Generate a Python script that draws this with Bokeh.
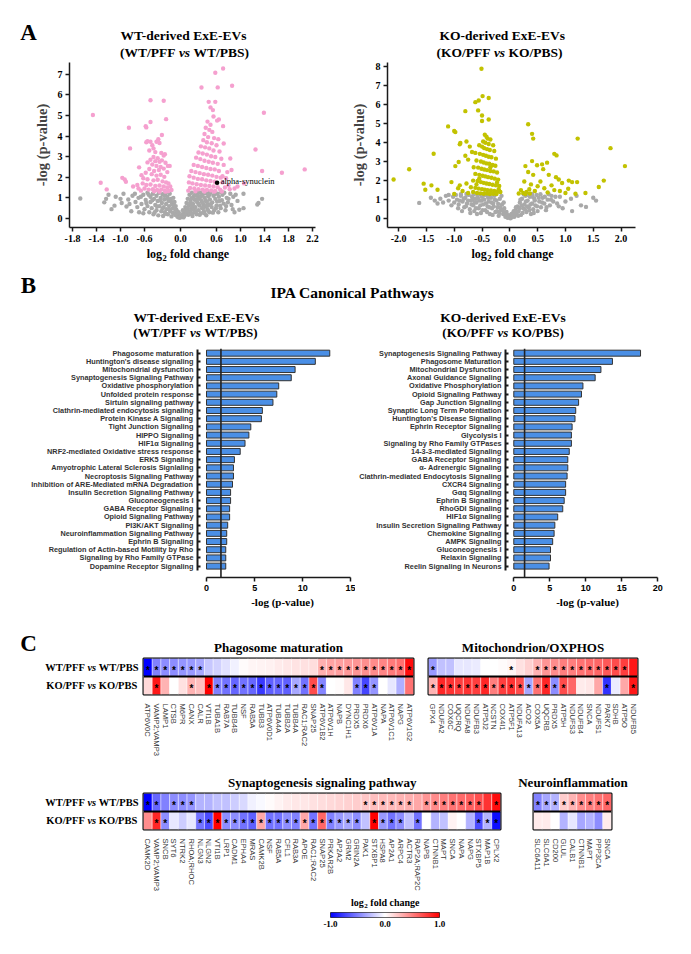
import math
import numpy as np
from bokeh.plotting import figure
from bokeh.models import (Range1d, FactorRange, FixedTicker, PrintfTickFormatter, Label, Span,
                          ColumnDataSource, LinearColorMapper)
from bokeh.layouts import row, column
from bokeh.transform import linear_cmap
from bokeh.core.properties import value
from bokeh.embed import file_html
from bokeh.resources import INLINE

SERIF = "Liberation Serif"
SANS = "Liberation Sans"

# ---------------- Panel A: volcano data (log2 FC, -log p) ----------------
wt_ns = [(-1.67,0.97),(-1.27,0.78),(-1.24,0.95),(-1.15,0.45),(-1.10,0.62),(-1.08,1.05),(-0.98,0.75),(-0.95,1.20),
         (-0.90,0.58),(-0.87,0.92),(-0.82,0.35),(-0.80,1.10),(-0.75,0.80),(-0.72,0.55),(-0.70,1.00),
         (1.36,0.95),(1.30,0.75),(1.28,0.68),(1.05,0.50),(0.98,0.42),(0.90,0.30),(1.05,1.20),(0.95,0.85),
         (0.88,1.05),(0.85,0.65),(0.80,0.95),(0.92,1.15),
         (-0.65,0.70),(-0.62,1.15),(-0.60,0.45),(-0.58,0.90),(-0.55,1.25),(-0.55,0.60),(-0.52,0.30),(-0.50,1.05),
         (-0.50,0.80),(-0.48,0.50),(-0.46,1.20),(-0.45,0.20),(-0.44,0.95),(-0.42,0.65),(-0.40,1.10),(-0.40,0.40),
         (-0.38,0.85),(-0.37,0.15),(-0.36,1.25),(-0.35,0.60),(-0.33,1.00),(-0.32,0.35),(-0.31,0.75),(-0.30,1.18),
         (-0.29,0.12),(-0.28,0.55),(-0.27,0.92),(-0.26,0.30),(-0.25,1.22),(-0.24,0.70),(-0.23,0.45),(-0.22,1.05),
         (-0.21,0.20),(-0.20,0.85),(-0.19,0.60),(-0.18,1.20),(-0.17,0.35),(-0.16,0.95),(-0.15,0.10),(-0.14,0.70),
         (-0.13,0.50),(-0.12,1.00),(-0.11,0.25),(-0.10,0.80),(-0.09,0.45),(-0.08,0.60),(-0.07,0.15),(-0.06,0.35),
         (-0.05,0.08),(-0.04,0.25),(-0.03,0.05),(-0.02,0.12),
         (0.02,0.08),(0.03,0.20),(0.05,0.05),(0.06,0.35),(0.07,0.15),(0.08,0.55),(0.09,0.28),(0.10,0.75),
         (0.11,0.42),(0.12,0.95),(0.13,0.18),(0.14,0.62),(0.15,1.15),(0.16,0.35),(0.17,0.85),(0.18,0.50),
         (0.19,1.25),(0.20,0.12),(0.21,0.70),(0.22,1.05),(0.23,0.30),(0.24,0.90),(0.25,0.55),(0.26,1.20),
         (0.27,0.20),(0.28,0.78),(0.29,1.10),(0.30,0.40),(0.31,0.95),(0.32,0.62),(0.33,1.25),(0.34,0.25),
         (0.35,0.85),(0.36,0.50),(0.37,1.15),(0.38,0.70),(0.39,0.35),(0.40,1.00),(0.41,0.58),(0.42,1.22),
         (0.43,0.15),(0.44,0.80),(0.45,0.45),(0.46,1.08),(0.47,0.65),(0.48,0.30),(0.49,0.92),(0.50,1.25),
         (0.52,0.55),(0.53,0.78),(0.55,1.10),(0.56,0.40),(0.58,0.95),(0.60,0.62),(0.62,1.20),(0.63,0.30),
         (0.65,0.85),(0.67,0.50),(0.70,1.15),(0.72,0.72),(0.75,0.40),(0.77,1.00),(0.68,1.28),(0.45,1.30),
         (0.30,1.28),(0.18,0.98),(0.10,0.50),
         (-0.62,0.25),(-0.57,0.75),(-0.53,1.15),(-0.47,0.88),(-0.43,0.30),(-0.39,0.58),(-0.34,0.88),(-0.30,0.48),
         (-0.27,1.10),(-0.24,0.22),(-0.21,0.95),(-0.18,0.42),(-0.15,0.80),(-0.13,0.28),(-0.11,0.62),(-0.09,0.18),
         (-0.07,0.42),(-0.05,0.22),(-0.03,0.30),(-0.01,0.03),(0.01,0.15),(0.04,0.40),(0.06,0.12),(0.08,0.22),
         (0.10,0.32),(0.12,0.48),(0.14,0.30),(0.16,0.75),(0.18,0.22),(0.20,0.58),(0.22,0.42),(0.24,1.12),
         (0.26,0.35),(0.28,0.95),(0.30,0.70),(0.32,0.18),(0.34,1.05),(0.36,0.78),(0.38,0.52),(0.40,0.25),
         (0.42,0.88),(0.44,0.62),(0.46,0.38),(0.48,1.15),(0.51,0.72),(0.54,0.28),(0.57,1.18),(0.59,0.50),
         (0.61,0.82),(0.64,1.05),(0.66,0.62),(0.69,0.88),(0.73,1.25),(0.76,0.60),(0.79,0.78),(0.83,1.20),
         (0.87,0.45),(-0.66,1.05),(-0.69,0.30),(-0.76,1.20),(-0.85,0.70),(-1.00,0.95),(-1.20,1.15)]
wt_sig = [(-1.46,5.02),(-1.33,1.73),(-1.23,1.41),(-0.86,4.40),(-0.84,3.40),(-0.97,1.97),(-0.93,1.89),(-0.91,1.78),
          (-0.79,1.55),(-0.72,1.62),(-0.69,2.48),(-0.70,1.45),(-0.65,2.10),
          (-0.50,5.74),(-0.28,5.71),(-0.24,4.82),(-0.50,4.68),(-0.58,4.48),(-0.57,4.42),(-0.31,4.05),(-0.37,3.85),
          (-0.40,3.72),(-0.35,3.66),(-0.55,3.75),(-0.57,3.70),(-0.50,3.72),(-0.47,3.55),(-0.45,3.40),(-0.52,3.30),
          (-0.42,3.22),(-0.32,3.18),(-0.28,3.05),(-0.26,3.12),(-0.45,2.98),(-0.38,2.92),(-0.50,2.85),(-0.42,2.78),
          (-0.35,2.75),(-0.31,2.82),(-0.25,2.70),(-0.21,2.55),(-0.55,2.72),(-0.47,2.62),(-0.40,2.55),(-0.33,2.50),
          (-0.28,2.42),(-0.36,2.35),(-0.44,2.30),(-0.52,2.40),(-0.58,2.22),(-0.48,2.15),(-0.40,2.08),(-0.33,2.12),
          (-0.27,2.02),(-0.22,2.25),(-0.18,2.55),(-0.62,1.95),(-0.55,1.90),(-0.45,1.85),(-0.38,1.88),(-0.30,1.80),
          (-0.24,1.75),(-0.20,1.70),(-0.63,1.70),(-0.57,1.62),(-0.50,1.65),(-0.42,1.58),(-0.35,1.60),(-0.28,1.55),
          (-0.22,1.50),(-0.17,1.55),(-0.60,1.45),(-0.53,1.40),(-0.46,1.42),(-0.39,1.38),(-0.32,1.40),(-0.26,1.35),
          (-0.20,1.33),(-0.15,1.38),(-0.66,1.35),(-0.44,1.32),(-0.35,1.30),(-0.25,1.30),
          (0.58,7.07),(0.71,7.28),(0.35,6.36),(0.62,6.36),(0.86,6.44),(0.47,5.66),(0.58,5.66),(0.50,5.39),
          (0.54,5.26),(1.39,5.13),(1.25,3.35),(1.36,2.30),(1.69,2.22),(2.07,2.38),(1.06,1.70),(0.85,2.35),
          (0.83,2.91),(0.72,3.64),(0.71,4.48),(0.64,4.80),(0.61,4.75),(0.95,1.55),(0.90,1.45),(0.80,1.60),
          (0.76,1.95),(0.70,2.05),
          (0.55,4.95),(0.45,4.70),(0.50,4.55),(0.42,4.40),(0.48,4.30),(0.53,4.20),(0.40,4.10),(0.46,3.95),
          (0.56,3.90),(0.63,3.85),(0.38,3.80),(0.44,3.70),(0.52,3.65),(0.60,3.55),(0.34,3.50),(0.41,3.45),
          (0.48,3.40),(0.55,3.30),(0.65,3.25),(0.30,3.20),(0.37,3.15),(0.44,3.10),(0.51,3.02),(0.58,2.98),
          (0.68,2.90),(0.26,2.95),(0.33,2.88),(0.40,2.80),(0.47,2.75),(0.54,2.70),(0.62,2.65),(0.72,2.60),
          (0.22,2.60),(0.29,2.55),(0.36,2.50),(0.43,2.45),(0.50,2.40),(0.57,2.38),(0.64,2.30),(0.78,2.25),
          (0.18,2.30),(0.25,2.25),(0.32,2.20),(0.39,2.15),(0.46,2.12),(0.53,2.08),(0.60,2.02),(0.67,1.98),
          (0.15,2.05),(0.22,1.98),(0.29,1.92),(0.36,1.90),(0.43,1.85),(0.50,1.82),(0.57,1.78),(0.70,1.75),
          (0.14,1.75),(0.20,1.70),(0.27,1.66),(0.34,1.62),(0.41,1.60),(0.48,1.58),(0.55,1.55),(0.62,1.52),
          (0.74,1.50),(0.16,1.48),(0.23,1.45),(0.30,1.42),(0.37,1.40),(0.44,1.38),(0.51,1.36),(0.58,1.34),
          (0.66,1.40),(0.82,1.42),(0.13,1.35),(0.25,1.32),(0.40,1.31),(0.56,1.30),(0.69,1.31)]
snca_point = (0.61, 1.73)
snca_name = "alpha-synuclein"

ko_ns = [(-1.63,0.83),(-1.42,1.10),(-1.35,0.95),(-1.25,1.05),(-1.20,0.85),(-1.15,1.20),(-1.10,0.95),(-1.05,0.70),
         (-1.02,1.15),(1.50,1.10),(1.55,0.95),(1.28,0.70),(1.12,0.40),(1.37,0.62),(1.20,1.20),(1.10,1.05),
         (1.00,0.90),(0.95,0.55),(0.90,1.15),(0.85,0.80),
         (-0.95,1.00),(-0.92,0.75),(-0.88,1.20),(-0.85,0.90),(-0.82,0.60),(-0.80,1.10),(-0.77,0.80),(-0.74,1.25),
         (-0.72,0.50),(-0.70,0.95),(-0.68,1.15),(-0.66,0.70),(-0.64,0.40),(-0.62,1.05),(-0.60,0.85),(-0.58,1.22),
         (-0.56,0.55),(-0.54,0.95),(-0.52,0.30),(-0.50,1.15),(-0.48,0.75),(-0.46,1.00),(-0.44,0.45),(-0.42,1.25),
         (-0.40,0.65),(-0.38,0.90),(-0.36,0.25),(-0.34,1.10),(-0.32,0.55),(-0.30,0.80),(-0.28,1.20),(-0.26,0.35),
         (-0.24,0.95),(-0.22,0.60),(-0.20,0.15),(-0.18,1.05),(-0.16,0.45),(-0.14,0.75),(-0.12,0.25),(-0.10,0.55),
         (-0.08,0.10),(-0.06,0.35),(-0.04,0.05),(-0.02,0.18),(-0.45,1.30),(-0.55,1.28),(-0.65,1.28),(-0.35,1.30),
         (-0.25,1.28),(-0.15,1.20),(-0.78,1.30),(-0.88,1.28),
         (0.02,0.05),(0.04,0.15),(0.06,0.30),(0.08,0.10),(0.10,0.45),(0.12,0.25),(0.14,0.65),(0.16,0.40),
         (0.18,0.85),(0.20,0.20),(0.22,1.05),(0.24,0.55),(0.26,0.75),(0.28,1.20),(0.30,0.35),(0.32,0.95),
         (0.34,0.60),(0.36,1.15),(0.38,0.25),(0.40,0.80),(0.42,0.50),(0.44,1.05),(0.46,0.70),(0.48,1.25),
         (0.50,0.40),(0.53,0.90),(0.56,0.60),(0.59,1.10),(0.62,0.80),(0.65,0.45),(0.68,1.00),(0.72,0.70),
         (0.75,1.20),(0.78,0.90),(0.55,1.28),(0.70,1.28),(0.40,1.30),(0.25,1.28),
         (-0.93,0.55),(-0.90,0.95),(-0.86,0.40),(-0.83,1.05),(-0.79,0.65),(-0.75,0.95),(-0.71,0.30),(-0.69,0.75),
         (-0.67,1.00),(-0.63,0.85),(-0.61,0.55),(-0.59,0.25),(-0.57,1.05),(-0.53,0.70),(-0.51,0.95),(-0.49,0.45),
         (-0.47,1.22),(-0.43,0.80),(-0.41,0.35),(-0.39,1.10),(-0.37,0.60),(-0.33,0.85),(-0.31,0.20),(-0.29,0.65),
         (-0.27,1.00),(-0.23,0.40),(-0.21,0.78),(-0.19,0.30),(-0.17,0.60),(-0.13,0.45),(-0.11,0.85),(-0.09,0.30),
         (-0.07,0.20),(-0.05,0.12),(-0.03,0.08),(0.01,0.02),(0.03,0.25),(0.05,0.10),(0.07,0.40),(0.09,0.20),
         (0.11,0.60),(0.13,0.35),(0.15,0.15),(0.17,0.55),(0.19,1.00),(0.21,0.70),(0.23,0.30),(0.27,0.50),
         (0.29,0.90),(0.31,0.65),(0.33,1.25),(0.35,0.45),(0.37,0.75),(0.41,1.15),(0.43,0.30),(0.45,0.95),
         (0.49,0.65),(0.52,1.10),(0.58,0.85),(0.63,1.15),(0.66,0.60),(0.74,1.00),(0.82,1.15),(0.88,0.65),
         (-1.30,0.80),(-1.10,1.25),(-1.00,0.85),(-0.97,1.25)]
ko_sig = [(-0.51,7.86),(-0.49,6.43),(-0.38,6.33),(-0.62,6.11),(-0.56,6.20),(-0.57,5.68),(-0.80,5.64),(-0.50,5.41),
          (-0.38,5.20),(-0.50,5.12),(-1.11,4.84),(-1.00,4.60),(-0.98,4.54),(-0.89,3.97),(-0.90,3.90),(-1.37,3.41),
          (-1.81,2.59),(-2.09,2.06),(-1.55,1.84),(-1.52,1.52),(-1.41,1.75),(-1.30,1.52),(-1.05,1.92),(-0.98,2.76),
          (-0.92,2.97),(-0.93,1.60),(-0.90,1.75),(-0.85,1.45),(-1.00,1.30),(-0.78,4.05),(-0.72,3.78),(-0.80,3.30),
          (-0.75,3.10),(-0.68,3.50),
          (-0.45,4.40),(-0.42,4.30),(-0.40,4.20),(-0.35,4.15),(-0.48,4.05),(-0.44,3.98),(-0.38,3.92),(-0.30,3.85),
          (-0.55,3.85),(-0.50,3.78),(-0.46,3.70),(-0.41,3.65),(-0.36,3.60),(-0.28,3.55),(-0.62,3.45),(-0.54,3.40),
          (-0.48,3.35),(-0.43,3.30),(-0.38,3.25),(-0.33,3.22),(-0.25,3.15),(-0.60,3.05),(-0.52,3.00),(-0.47,2.95),
          (-0.42,2.90),(-0.37,2.88),(-0.31,2.82),(-0.26,2.78),(-0.65,2.70),(-0.57,2.68),(-0.51,2.62),(-0.46,2.58),
          (-0.41,2.55),(-0.35,2.50),(-0.29,2.48),(-0.23,2.42),(-0.62,2.35),(-0.55,2.30),(-0.49,2.25),(-0.44,2.22),
          (-0.39,2.18),(-0.33,2.15),(-0.27,2.10),(-0.21,2.05),(-0.66,2.00),(-0.58,1.98),(-0.52,1.92),(-0.47,1.88),
          (-0.42,1.85),(-0.37,1.82),(-0.31,1.78),(-0.25,1.75),(-0.19,1.72),(-0.70,1.65),(-0.62,1.62),(-0.56,1.58),
          (-0.50,1.55),(-0.45,1.52),(-0.40,1.50),(-0.34,1.48),(-0.28,1.45),(-0.22,1.42),(-0.17,1.40),(-0.66,1.40),
          (-0.59,1.35),(-0.53,1.33),(-0.47,1.31),(-0.41,1.32),(-0.36,1.30),(-0.30,1.31),(-0.24,1.30),(-0.20,1.55),
          (-0.23,1.90),(-0.75,1.35),(-0.78,1.85),(-0.35,2.70),(-0.55,2.10),(-0.60,1.80),
          (0.33,4.95),(0.40,4.45),(0.42,4.20),(1.22,4.20),(1.81,3.70),(2.07,2.76),(0.80,3.40),(0.84,3.32),
          (0.40,3.02),(0.49,2.80),(0.67,2.94),(0.58,2.85),(0.28,2.76),(0.33,2.45),(0.83,2.18),(0.88,2.06),
          (1.06,2.00),(1.12,1.92),(1.21,1.92),(1.69,2.00),(1.60,1.66),(1.36,1.35),(1.18,1.31),(1.05,1.57),
          (0.94,1.87),(0.75,1.75),(0.70,2.30),(0.62,1.60),(0.55,1.95),(0.50,1.70),(0.45,1.45),(0.38,1.80),
          (0.35,1.55),(0.30,1.40),(0.26,1.95),(0.24,1.35),(0.20,1.50),(0.42,2.30),(0.60,2.60),(0.90,1.45),
          (1.00,1.35),(0.80,1.50),(0.68,1.38),(0.28,1.30),(0.36,1.32),(0.16,1.32)]
wt_volcano_xticks = [-1.8, -1.4, -1.0, -0.6, 0.0, 0.6, 1.0, 1.4, 1.8, 2.2]
ko_volcano_xticks = [-2.0, -1.5, -1.0, -0.5, 0.0, 0.5, 1.0, 1.5, 2.0]
wt_volcano_yticks = [0, 1, 2, 3, 4, 5, 6, 7]
ko_volcano_yticks = [0, 1, 2, 3, 4, 5, 6, 7, 8]

# ---------------- Panel B: IPA canonical pathways ----------------
wt_pathways = ["Phagosome maturation", "Huntington's disease signaling", "Mitochondrial dysfunction",
               "Synaptogenesis Signaling Pathway", "Oxidative phosphorylation", "Unfolded protein response",
               "Sirtuin signaling pathway", "Clathrin-mediated endocytosis signaling", "Protein Kinase A Signaling",
               "Tight Junction Signaling", "HIPPO Signaling", "HIF1\u03b1 Signaling",
               "NRF2-mediated Oxidative stress response", "ERK5 Signaling", "Amyotrophic Lateral Sclerosis Signlaling",
               "Necroptosis Signaling Pathway", "Inhibition of ARE-Mediated mRNA Degradation",
               "Insulin Secretion Signaling Pathway", "Gluconeogenesis I", "GABA Receptor Signaling",
               "Opioid Signaling Pathway", "PI3K/AKT Signaling", "Neuroinflammation Signaling Pathway",
               "Ephrin B Signaling", "Regulation of Actin-based Motility by Rho", "Signaling by Rho Family GTPase",
               "Dopamine Receptor Signaling"]
wt_logp = [12.8, 11.3, 9.2, 8.8, 7.5, 7.3, 6.9, 5.8, 5.7, 4.6, 4.4, 4.0, 3.5, 2.9, 2.8, 2.8, 2.7, 2.5, 2.5,
           2.4, 2.4, 2.2, 2.1, 2.1, 2.0, 2.0, 2.0]
ko_pathways = ["Synaptogenesis Signaling Pathway", "Phagosome Maturation", "Mitochondrial Dysfunction",
               "Axonal Guidance Signaling", "Oxidative Phosphorylation", "Opioid Signaling Pathway",
               "Gap Junction Signaling", "Synaptic Long Term Potentiation", "Huntington's Disease Signaling",
               "Ephrin Receptor Signaling", "Glycolysis I", "Signaling by Rho Family GTPases",
               "14-3-3-mediated Signaling", "GABA Receptor Signaling", "\u03b1- Adrenergic Signaling",
               "Clathrin-mediated Endocytosis Signaling", "CXCR4 Signaling", "G\u03b1q Signaling",
               "Ephrin B Signaling", "RhoGDI Signaling", "HIF1\u03b1 Signaling", "Insulin Secretion Signaling Pathway",
               "Chemokine Signaling", "AMPK Signaling", "Gluconeogenesis I", "Relaxin Signaling",
               "Reelin Signaling in Neurons"]
ko_logp = [17.6, 13.7, 12.1, 11.3, 9.6, 9.4, 9.0, 8.6, 8.5, 8.1, 8.0, 8.0, 7.7, 7.5, 7.5, 7.4, 7.2, 7.2,
           7.0, 6.8, 6.1, 5.7, 5.6, 5.4, 5.1, 5.1, 4.9]
logp_threshold = 1.5
wt_bar_xticks = [0, 5, 10, 15]
ko_bar_xticks = [0, 5, 10, 15, 20]

# ---------------- Panel C: heatmaps (log2 fold change, significance) ----------------
row_names = ["KO", "WT"]
phago_genes = ["ATP6V0C", "VAMP2;VAMP3", "LAMP1", "CTSB", "M6PR", "CANX", "CALR", "VTI1B", "TUBA1B", "RAB7A",
               "TUBB4B", "NSF", "RAB5A", "TUBB3", "ATP6V0D1", "TUBA4A", "TUBB2A", "TUBB4A", "RAC1;RAC2", "SNAP25",
               "ATP6V1B2", "ATP6V1H", "NAPB", "DYNC1H1", "PRDX5", "PRDX6", "ATP6V1A", "NAPA", "ATP6V1C1", "NAPG",
               "ATP6V1G2"]
phago_wt = [-1.0, -0.5, -0.45, -0.45, -0.42, -0.4, -0.35, -0.22, -0.18, -0.12, -0.06, 0.02, 0.04, 0.05, 0.06,
            0.08, 0.1, 0.11, 0.12, 0.14, 0.32, 0.36, 0.38, 0.4, 0.42, 0.44, 0.46, 0.48, 0.52, 0.56, 0.95]
phago_ko = [0.15, 0.9, 0.3, 0.0, 0.12, 0.3, 0.25, 1.0, -0.5, -0.55, -0.6, -0.55, -0.6, -0.78, -0.62, -0.6,
            -0.62, -0.35, -0.55, 0.7, -0.48, 0.0, 0.02, 0.1, -0.5, -0.72, -0.42, 0.0, -0.1, -0.32, 0.55]
phago_wt_star = [1, 1, 1, 1, 1, 1, 1, 0, 0, 0, 0, 0, 0, 0, 0, 0, 0, 0, 0, 0, 1, 1, 1, 1, 1, 1, 1, 1, 1, 1, 1]
phago_ko_star = [0, 1, 0, 0, 0, 1, 0, 1, 1, 1, 1, 1, 1, 1, 1, 1, 1, 1, 1, 1, 1, 0, 0, 0, 1, 1, 1, 0, 0, 0, 0]

mito_genes = ["GPX4", "NDUFA2", "COX6C", "UQCRQ", "NDUFA8", "NDUFB3", "ATP5J2", "NCSTN", "COX4I1", "ATP5F1",
              "NDUFA13", "ACO2", "COX5A", "UQCRB", "PRDX5", "ATP5H", "NDUFS3", "NDUFB4", "SNCA", "NDUFS1",
              "PARK7", "SDHB", "ATP5O", "NDUFB5"]
mito_wt = [-0.4, -0.25, -0.25, -0.1, -0.1, -0.08, 0.0, 0.0, 0.02, 0.04, 0.12, 0.18, 0.3, 0.42, 0.45, 0.5,
           0.5, 0.55, 0.58, 0.6, 0.65, 0.7, 0.75, 0.9]
mito_ko = [0.3, 0.85, 0.8, 0.75, 0.8, 0.75, 0.85, 0.5, 0.75, 0.8, 0.7, -0.35, 0.55, 0.85, -0.45, 0.7, 0.6,
           0.08, 0.1, 0.35, -0.8, -0.08, 0.35, 0.9]
mito_wt_star = [1, 0, 0, 0, 0, 0, 0, 0, 0, 1, 0, 0, 1, 1, 1, 1, 1, 1, 1, 1, 1, 1, 1, 0]
mito_ko_star = [1, 1, 1, 1, 1, 1, 1, 1, 1, 1, 1, 1, 1, 1, 1, 1, 0, 0, 0, 0, 1, 0, 0, 1]

syn_genes = ["CAMK2D", "VAMP2;VAMP3", "SNCB", "SYT6", "NTRK2", "RHOA;RHOC", "NLGN3", "NLGN2", "VTI1B", "LRP1",
             "CADM1", "EPHA4", "MRAS", "CAMK2B", "NSF", "RAB5A", "CFL1", "RAB3A", "APOE", "RAC1;RAC2", "SNAP25",
             "PRKAR2B", "AP2A2", "GRM2", "GRIN2A", "PAK1", "STXBP1", "HSPA8", "AP2A1", "ARPC4", "ACTR3",
             "RAP2A;RAP2C", "NAPB", "CTNNB1", "MAPT", "SNCA", "NAPA", "NAPG", "STXBP5", "MAP1B", "CPLX2"]
syn_wt = [-1.0, -0.6, -0.5, -0.45, -0.45, -0.42, -0.3, -0.3, -0.25, -0.25, -0.2, -0.15, -0.06, -0.03, 0.02,
          0.05, 0.08, 0.1, 0.1, 0.12, 0.14, 0.15, 0.17, 0.18, 0.2, 0.22, 0.25, 0.27, 0.28, 0.3, 0.32, 0.35,
          0.42, 0.46, 0.5, 0.55, 0.58, 0.62, 0.68, 0.8, 0.95]
syn_ko = [0.45, 0.85, -0.45, -0.1, -0.2, -0.1, -0.55, -0.7, 1.0, -0.45, -0.45, -0.55, -0.62, 0.35, -0.55,
          -0.55, -0.45, -0.5, 0.35, -0.55, 0.6, -0.5, -0.4, -0.35, -0.45, -0.25, 1.0, -0.4, -0.55, -0.45,
          -0.25, -0.55, 0.0, -0.3, -0.25, 0.05, 0.0, -0.3, -0.7, -0.3, -0.95]
syn_wt_star = [1, 1, 0, 1, 1, 1, 0, 0, 0, 0, 0, 0, 0, 0, 0, 0, 0, 0, 0, 0, 0, 0, 0, 0, 0, 1, 1, 1, 1, 1, 1,
               0, 1, 1, 1, 1, 1, 1, 1, 0, 1]
syn_ko_star = [0, 1, 1, 0, 0, 0, 1, 1, 1, 1, 1, 1, 1, 1, 1, 1, 1, 1, 1, 1, 1, 1, 1, 1, 1, 0, 1, 1, 1, 1, 0,
               1, 0, 0, 0, 0, 0, 0, 1, 1, 1]

neuro_genes = ["SLC6A11", "SLC6A1", "CD200", "GLUL", "CALB1", "CTNNB1", "MAPT", "PPP3CA", "SNCA"]
neuro_wt = [-0.5, -0.35, -0.3, 0.2, 0.3, 0.45, 0.5, 0.55, 0.6]
neuro_ko = [0.08, 0.08, 0.0, -0.3, -0.1, -0.35, -0.3, -0.45, 0.08]
neuro_wt_star = [1, 1, 1, 1, 1, 1, 1, 1, 1]
neuro_ko_star = [0, 0, 0, 0, 0, 0, 0, 0, 0]

cbar_ticks = [-1.0, 0.0, 1.0]

# ---------------- styling helpers ----------------
def _mix(c1, c2, t):
    return "#%02x%02x%02x" % tuple(int(round(a + (b - a) * t)) for a, b in zip(c1, c2))

BLUE, WHITE, RED = (0, 0, 255), (255, 255, 255), (255, 0, 0)
PALETTE = [_mix(BLUE, WHITE, i / 127) for i in range(128)] + [_mix(WHITE, RED, i / 127) for i in range(128)]


def base_fig(w, h, xr, yr, l, r, t, b, **kw):
    p = figure(width=w, height=h, x_range=xr, y_range=yr, min_border_left=l, min_border_right=r,
               min_border_top=t, min_border_bottom=b, output_backend="svg", toolbar_location=None, **kw)
    p.grid.visible = False
    p.outline_line_color = None
    p.background_fill_color = "white"
    p.border_fill_color = "white"
    return p


def strip(y0, y1, x0=0, x1=691):
    """Text-only panel whose data coordinates equal page pixels."""
    return base_fig(x1 - x0, y1 - y0, Range1d(x0, x1), Range1d(y1, y0), 0, 0, 0, 0,
                    x_axis_location=None, y_axis_location=None)


def lab(p, x, y, text, size, font=SERIF, style="bold", align="center", baseline="middle", angle=0.0,
        color="black"):
    p.add_layout(Label(x=x, y=y, text=text, text_font=font, text_font_style=style,
                       text_font_size=f"{size}px", text_align=align, text_baseline=baseline,
                       angle=angle, text_color=color))


def vs_line(p, y, xvs, a, b, size, gap):
    lab(p, xvs - gap, y, a, size, align="right")
    lab(p, xvs, y, "vs", size, style="bold italic")
    lab(p, xvs + gap, y, b, size, align="left")


def style_axis(ax, font, size, standoff=3, tick_out=4, tick_in=0, lw=1.5):
    ax.axis_line_color = "#1a1a1a"
    ax.axis_line_width = lw
    ax.major_tick_line_color = "#1a1a1a"
    ax.major_tick_line_width = lw
    ax.major_tick_out = tick_out
    ax.major_tick_in = tick_in
    ax.minor_tick_line_color = None
    ax.major_label_text_font = font
    ax.major_label_text_font_style = "bold"
    ax.major_label_text_font_size = f"{size}px"
    ax.major_label_text_color = "black"
    ax.major_label_standoff = standoff


def volcano(ns, sig, color, w, l, r, xr, yr, xticks, yticks, ylab_standoff):
    p = base_fig(w, 184, Range1d(*xr), Range1d(*yr), l, r, 2, 17)
    p.scatter([a for a, _ in ns], [b for _, b in ns], size=4.4, fill_color="#a9a9a9", line_color=None)
    p.scatter([a for a, _ in sig], [b for _, b in sig], size=4.4, fill_color=color, line_color=None)
    p.xaxis.ticker = FixedTicker(ticks=xticks)
    p.xaxis.formatter = PrintfTickFormatter(format="%.1f")
    p.yaxis.ticker = FixedTicker(ticks=yticks)
    for ax in p.axis:
        style_axis(ax, SERIF, 10)
    p.yaxis.axis_label = "-log (p-value)"
    p.yaxis.axis_label_text_font = SERIF
    p.yaxis.axis_label_text_font_style = "bold"
    p.yaxis.axis_label_text_font_size = "14.5px"
    p.yaxis.axis_label_standoff = ylab_standoff
    return p


def barchart(names, vals, w, l, r, xr, xticks, thr):
    n = len(names)
    ypos = [n - 1 - i for i in range(n)]
    p = base_fig(w, 251, Range1d(*xr), Range1d(-1.39, n - 0.43), l, r, 6, 16)
    p.hbar(y=ypos, left=0, right=vals, height=0.73, fill_color="#4a8fe6", line_color="#333333", line_width=1)
    p.add_layout(Span(location=thr, dimension="height", line_color="#222222", line_width=1.6))
    p.xaxis.ticker = FixedTicker(ticks=xticks)
    p.xaxis.bounds = (xticks[0], xticks[-1])
    style_axis(p.xaxis[0], SANS, 9, standoff=3, tick_out=4)
    p.yaxis.ticker = FixedTicker(ticks=ypos)
    p.yaxis.major_label_overrides = {yy: nm for yy, nm in zip(ypos, names)}
    p.yaxis.bounds = (-0.5, n - 0.5)
    style_axis(p.yaxis[0], SANS, 7.3, standoff=4, tick_out=0, tick_in=3, lw=2)
    p.yaxis.major_label_text_color = "#333333"
    return p


def heatmap(genes, wt, ko, wt_star, ko_star, w, h, l, r, t, b):
    n = len(genes)
    p = base_fig(w, h, FactorRange(factors=genes), FactorRange(factors=row_names), l, r, t, b,
                 y_axis_location=None)
    src = ColumnDataSource(dict(g=genes + genes, r=["WT"] * n + ["KO"] * n, v=wt + ko))
    p.rect(x="g", y="r", width=1, height=1, source=src, fill_color=linear_cmap("v", PALETTE, -1, 1),
           line_color="white", line_width=0.6, line_alpha=0.7)
    sx = [g for g, s in zip(genes, wt_star) if s] + [g for g, s in zip(genes, ko_star) if s]
    sy = ["WT"] * sum(wt_star) + ["KO"] * sum(ko_star)
    if sx:
        p.text(x=sx, y=sy, text=["*"] * len(sx), text_font=value(SANS), text_font_style="bold",
               text_font_size="10px", text_align="center", text_baseline="middle", y_offset=3,
               text_color="black")
    p.outline_line_color = "black"
    p.outline_line_width = 2
    p.add_layout(Span(location=1, dimension="width", line_color="black", line_width=2))
    ax = p.xaxis[0]
    ax.axis_line_color = None
    ax.major_tick_line_color = None
    ax.minor_tick_line_color = None
    ax.major_label_orientation = -math.pi / 2
    ax.major_label_text_font = SANS
    ax.major_label_text_font_size = "7.6px"
    ax.major_label_text_color = "#333333"
    ax.major_label_standoff = 3
    return p


def row_label_fig(h, t, b):
    p = base_fig(142, h, Range1d(0, 142), Range1d(0, 2), 0, 0, t, b,
                 x_axis_location=None, y_axis_location=None)
    for yy, grp in ((1.5, "WT"), (0.5, "KO")):
        vs_line(p, yy, 91.3, f"{grp}/PFF", f"{grp}/PBS", 10.5, 7.0)
    return p


# ---------------- Panel A ----------------
sA = strip(0, 60)
lab(sA, 28, 32, "A", 23)
lab(sA, 183, 35, "WT-derived ExE-EVs", 13.5)
vs_line(sA, 52, 184, "(WT/PFF", "WT/PBS)", 13.5, 9.0)
lab(sA, 501.7, 35, "KO-derived ExE-EVs", 13.5)
vs_line(sA, 52, 499, "(KO/PFF", "KO/PBS)", 13.5, 9.0)

vw = volcano(wt_ns, wt_sig, "#f5a0cf", 345, 69, 30, (-1.85, 2.25), (-0.44, 7.57), wt_volcano_xticks,
             wt_volcano_yticks, 5)
vw.scatter([snca_point[0]], [snca_point[1]], size=4.6, fill_color="black", line_color=None)
lab(vw, snca_point[0] + 0.06, snca_point[1] + 0.1, snca_name, 8.5, style="normal", align="left")
vk = volcano(ko_ns, ko_sig, "#c2c200", 346, 42, 56, (-2.20, 2.26), (-0.46, 8.19), ko_volcano_xticks,
             ko_volcano_yticks, 6)

sA2 = strip(244, 272)
for x_log, x_fc in ((161.5, 169.5), (486.3, 494.1)):
    lab(sA2, x_log, 253, "log", 12, align="right")
    lab(sA2, x_log + 0.5, 257.5, "2", 8.5, align="left")
    lab(sA2, x_fc, 253, "fold change", 12, align="left")

# ---------------- Panel B ----------------
sB = strip(272, 342)
lab(sB, 28, 285, "B", 23)
lab(sB, 352, 292, "IPA Canonical Pathways", 15.5)
lab(sB, 196, 317, "WT-derived ExE-EVs", 13.5)
vs_line(sB, 332, 195, "(WT/PFF", "WT/PBS)", 13, 8.7)
lab(sB, 502.5, 317, "KO-derived ExE-EVs", 13.5)
vs_line(sB, 332, 502.5, "(KO/PFF", "KO/PBS)", 13, 8.7)

bw = barchart(wt_pathways, wt_logp, 355, 197, 3, (-0.935, 15.16), wt_bar_xticks, logp_threshold)
bk = barchart(ko_pathways, ko_logp, 336, 150, 30, (-1.15, 20.51), ko_bar_xticks, logp_threshold)

sB2 = strip(593, 612)
lab(sB2, 282, 601, "-log (p-value)", 11)
lab(sB2, 587, 601, "-log (p-value)", 11)

# ---------------- Panel C ----------------
sC = strip(612, 656)
lab(sC, 28, 643, "C", 23)
lab(sC, 278, 647, "Phagosome maturation", 13)
lab(sC, 532.5, 647, "Mitochondrion/OXPHOS", 13)

rl1 = row_label_fig(109, 2, 71)
hp = heatmap(phago_genes, phago_wt, phago_ko, phago_wt_star, phago_ko_star, 279, 109, 1, 8, 2, 71)
hm = heatmap(mito_genes, mito_wt, mito_ko, mito_wt_star, mito_ko_star, 270, 109, 7, 54, 2, 71)

sC2 = strip(765, 791)
lab(sC2, 321.7, 782, "Synaptogenesis signaling pathway", 13)
lab(sC2, 572.5, 782, "Neuroinflammation", 13)

rl2 = row_label_fig(102, 2, 64)
hs = heatmap(syn_genes, syn_wt, syn_ko, syn_wt_star, syn_ko_star, 374, 102, 1, 16, 2, 64)
hn = heatmap(neuro_genes, neuro_wt, neuro_ko, neuro_wt_star, neuro_ko_star, 175, 102, 17, 80, 2, 64)

sC3 = strip(893, 908)
lab(sC3, 363.3, 902, "log", 10, align="right")
lab(sC3, 363.8, 905.5, "2", 7, align="left")
lab(sC3, 369.8, 902, "fold change", 10, align="left")

cb = base_fig(691, 32, Range1d(-1, 1), Range1d(0, 1), 330, 252, 4, 23, y_axis_location=None)
grad = np.linspace(-1, 1, 256).reshape(1, 256)
cb.image(image=[grad], x=-1, y=0, dw=2, dh=1, color_mapper=LinearColorMapper(palette=PALETTE, low=-1, high=1))
cb.outline_line_color = "#333333"
cb.outline_line_width = 1
cb.xaxis.ticker = FixedTicker(ticks=cbar_ticks)
cb.xaxis.formatter = PrintfTickFormatter(format="%.1f")
style_axis(cb.xaxis[0], SERIF, 9, standoff=3, tick_out=0)
cb.xaxis.axis_line_color = None
cb.xaxis.major_tick_line_color = None

layout = column(row(sA), row(vw, vk), row(sA2), row(sB), row(bw, bk), row(sB2), row(sC),
                row(rl1, hp, hm), row(sC2), row(rl2, hs, hn), row(sC3), row(cb))

with open("out.html", "w") as f:
    f.write(file_html(layout, INLINE))
